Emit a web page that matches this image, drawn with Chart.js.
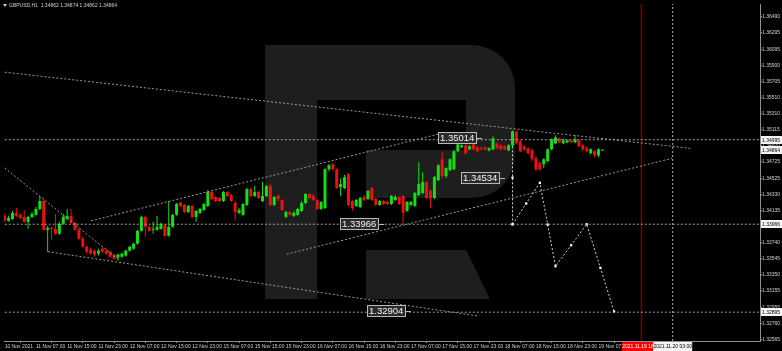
<!DOCTYPE html>
<html>
<head>
<meta charset="utf-8">
<script src="https://cdn.jsdelivr.net/npm/chart.js@4.4.0/dist/chart.umd.min.js"></script>
<style>
	html, body { margin: 0; padding: 0; background: #000; }
</style>
</head>
<body>
<canvas id="chart" width="782" height="351"></canvas>
<script>
// GBPUSD H1, 10 Nov 23:00 .. 19 Nov 08:00 (one candle per hour)
const opens = [
	1.34068,1.34007,1.34031,1.34104,1.34080,1.34055,1.33995,1.34055,1.34080,1.34152,
	1.34249,1.33898,1.33922,1.33910,1.33850,1.33971,1.34031,1.34068,1.33983,1.33898,
	1.33789,1.33692,1.33656,1.33644,1.33608,1.33668,1.33644,1.33632,1.33596,1.33559,
	1.33571,1.33584,1.33644,1.33668,1.33729,1.33886,1.34055,1.33934,1.33898,1.33898,
	1.33910,1.33959,1.33826,1.33934,1.34080,1.34225,1.34201,1.34116,1.34189,1.34055,
	1.34104,1.34140,1.34189,1.34358,1.34297,1.34285,1.34249,1.34358,1.34322,1.34225,
	1.34104,1.34080,1.34201,1.34394,1.34310,1.34358,1.34249,1.34310,1.34430,1.34201,
	1.34310,1.34261,1.34055,1.34116,1.34068,1.34080,1.34128,1.34225,1.34334,1.34310,
	1.34261,1.34152,1.34164,1.34636,1.34697,1.34636,1.34418,1.34406,1.34576,1.34249,
	1.34189,1.34176,1.34297,1.34273,1.34406,1.34273,1.34201,1.34249,1.34237,1.34213,
	1.34261,1.34297,1.34310,1.34128,1.34201,1.34189,1.34322,1.34346,1.34479,1.34370,
	1.34285,1.34503,1.34757,1.34552,1.34624,1.34636,1.34854,1.34903,1.34927,1.34878,
	1.34939,1.34903,1.34890,1.34903,1.34866,1.34878,1.34951,1.34927,1.34914,1.34866,
	1.34927,1.35096,1.34975,1.34914,1.34890,1.34866,1.34769,1.34709,1.34697,1.34733,
	1.34878,1.34951,1.35011,1.34951,1.34963,1.34987,1.34963,1.34987,1.34927,1.34890,
	1.34830,1.34854,1.34806,1.34862
];
const highs = [
	1.34092,1.34068,1.34128,1.34164,1.34104,1.34140,1.34068,1.34116,1.34176,1.34310,
	1.34273,1.33947,1.33934,1.34092,1.33995,1.34092,1.34152,1.34152,1.33995,1.33922,
	1.33813,1.33705,1.33680,1.33656,1.33668,1.33692,1.33668,1.33644,1.33608,1.33608,
	1.33620,1.33656,1.33705,1.33741,1.33898,1.34068,1.34068,1.33947,1.33995,1.34068,
	1.33983,1.33971,1.34249,1.34092,1.34225,1.34237,1.34213,1.34201,1.34201,1.34140,
	1.34164,1.34225,1.34382,1.34370,1.34310,1.34297,1.34370,1.34370,1.34334,1.34249,
	1.34164,1.34225,1.34406,1.34406,1.34430,1.34370,1.34479,1.34443,1.34455,1.34310,
	1.34334,1.34273,1.34128,1.34128,1.34128,1.34164,1.34249,1.34346,1.34346,1.34334,
	1.34273,1.34249,1.34648,1.34697,1.34709,1.34648,1.34527,1.34564,1.34588,1.34261,
	1.34273,1.34297,1.34322,1.34382,1.34418,1.34285,1.34261,1.34261,1.34249,1.34322,
	1.34322,1.34310,1.34322,1.34249,1.34249,1.34358,1.34721,1.34600,1.34491,1.34394,
	1.34552,1.34697,1.34842,1.34660,1.34769,1.34866,1.34951,1.34951,1.34939,1.34927,
	1.34951,1.34914,1.34914,1.34914,1.34903,1.35036,1.34963,1.34939,1.34927,1.34939,
	1.35108,1.35108,1.34999,1.34927,1.34903,1.34890,1.34794,1.34733,1.34769,1.34890,
	1.35011,1.35048,1.35023,1.35011,1.34999,1.34999,1.35048,1.34999,1.34939,1.34914,
	1.34890,1.34866,1.34890,1.34874
];
const lows = [
	1.33995,1.33995,1.34019,1.34055,1.34031,1.33983,1.33910,1.34043,1.34068,1.34140,
	1.33886,1.33632,1.33777,1.33838,1.33838,1.33959,1.34019,1.33971,1.33886,1.33777,
	1.33680,1.33608,1.33596,1.33571,1.33584,1.33620,1.33596,1.33559,1.33535,1.33523,
	1.33559,1.33571,1.33632,1.33656,1.33717,1.33874,1.33813,1.33874,1.33850,1.33886,
	1.33898,1.33813,1.33813,1.33922,1.34068,1.34176,1.34104,1.34104,1.34043,1.33995,
	1.34092,1.34128,1.34176,1.34261,1.34237,1.34237,1.34237,1.34297,1.34237,1.34007,
	1.34092,1.34068,1.34189,1.34297,1.34297,1.34273,1.34237,1.34297,1.34189,1.34189,
	1.34249,1.34128,1.34043,1.34068,1.34055,1.34068,1.34116,1.34213,1.34273,1.34249,
	1.34140,1.34140,1.34152,1.34612,1.34612,1.34394,1.34310,1.34394,1.34189,1.34128,
	1.34176,1.34164,1.34249,1.34261,1.34249,1.34189,1.34189,1.34201,1.34201,1.34201,
	1.34249,1.34201,1.33971,1.34116,1.34189,1.34176,1.34310,1.34334,1.34273,1.34164,
	1.34273,1.34491,1.34527,1.34527,1.34612,1.34624,1.34842,1.34890,1.34818,1.34866,
	1.34866,1.34842,1.34866,1.34866,1.34854,1.34866,1.34878,1.34866,1.34866,1.34854,
	1.34914,1.34939,1.34842,1.34854,1.34818,1.34733,1.34612,1.34612,1.34648,1.34721,
	1.34866,1.34939,1.34951,1.34939,1.34951,1.34951,1.34951,1.34903,1.34854,1.34842,
	1.34818,1.34781,1.34781,1.34862
];
const closes = [
	1.34019,1.34043,1.34104,1.34068,1.34043,1.33995,1.34055,1.34092,1.34152,1.34249,
	1.33898,1.33922,1.33910,1.33850,1.33971,1.34055,1.34068,1.33983,1.33898,1.33789,
	1.33692,1.33632,1.33608,1.33596,1.33644,1.33632,1.33608,1.33571,1.33547,1.33596,
	1.33608,1.33644,1.33692,1.33729,1.33886,1.34055,1.33934,1.33886,1.33910,1.33934,
	1.33971,1.33826,1.33934,1.34080,1.34213,1.34189,1.34116,1.34189,1.34055,1.34128,
	1.34152,1.34213,1.34358,1.34273,1.34249,1.34249,1.34358,1.34310,1.34249,1.34116,
	1.34140,1.34213,1.34394,1.34310,1.34358,1.34285,1.34310,1.34430,1.34201,1.34297,
	1.34273,1.34140,1.34116,1.34080,1.34104,1.34152,1.34225,1.34334,1.34285,1.34261,
	1.34152,1.34237,1.34636,1.34685,1.34636,1.34406,1.34455,1.34539,1.34201,1.34164,
	1.34261,1.34285,1.34261,1.34370,1.34261,1.34201,1.34249,1.34213,1.34213,1.34310,
	1.34297,1.34213,1.34104,1.34237,1.34237,1.34346,1.34455,1.34479,1.34285,1.34285,
	1.34539,1.34685,1.34552,1.34648,1.34757,1.34854,1.34939,1.34927,1.34830,1.34914,
	1.34878,1.34854,1.34878,1.34878,1.34890,1.35011,1.34890,1.34878,1.34878,1.34927,
	1.35096,1.34951,1.34854,1.34878,1.34830,1.34757,1.34636,1.34636,1.34757,1.34878,
	1.34999,1.35023,1.34963,1.34987,1.34987,1.34963,1.34999,1.34914,1.34878,1.34854,
	1.34878,1.34806,1.34878,1.34864
];

// axis labels
const xTickIdx = [0,8,16,24,32,40,48,56,64,72,80,88,96,104,112,120,128,136,144,152];
const xTickLabels = [
	"10 Nov 2021","11 Nov 07:00","11 Nov 15:00","11 Nov 23:00","12 Nov 07:00",
	"12 Nov 15:00","12 Nov 23:00","15 Nov 07:00","15 Nov 15:00","15 Nov 23:00",
	"16 Nov 07:00","16 Nov 15:00","16 Nov 23:00","17 Nov 07:00","17 Nov 15:00",
	"17 Nov 23:00","18 Nov 07:00","18 Nov 15:00","18 Nov 23:00","19 Nov 07:00"
];
const yTicks = [
	1.36490,1.36295,1.36095,1.35900,1.35705,1.35510,1.35310,1.35115,1.34920,1.34725,
	1.34525,1.34330,1.34135,1.33940,1.33740,1.33545,1.33350,1.33155,1.32955,1.32760,1.32565
];
const yMin = 1.325444;
const yMax = 1.366473;

// drawn objects (bar index, price)
const levelPrices = [1.34995, 1.33966, 1.32895];
const triangleTop = [{ x: 0, y: 1.35817 }, { x: 175.5, y: 1.34890 }];
const channelUp = [{ x: 22.1, y: 1.34007 }, { x: 112, y: 1.35075 }];
const channelUpLow = [{ x: 72.2, y: 1.33602 }, { x: 170.9, y: 1.34769 }];
const channelDown = [{ x: 11.05, y: 1.33632 }, { x: 121.1, y: 1.32849 }];
const earlyDown = [{ x: 0, y: 1.34652 }, { x: 29.15, y: 1.33535 }];
const dropIdx = [130, 130, 130];
const dropPrice = [1.34914, 1.34534, 1.33966];
const fcIdx = [130, 133.5, 137, 139, 141, 145, 149, 152.5, 156];
const fcPrice = [1.33966, 1.34218, 1.34470, 1.33962, 1.33454, 1.33710, 1.33966, 1.33435, 1.32904];
const noteText = ["1.35014", "1.34534", "1.33966", "1.32904"];
const noteIdx = [121, 126.8, 95.8, 102.8];
const axisMarks = [1.34995, 1.34864, 1.33966, 1.32895];
const nowIdx = 163;
const nowLabel = "2021.11.19 18:00";
const cursorIdx = 171;
const cursorLabel = "2021.11.20 03:00";
const header = "GBPUSD,H1  1.34862 1.34874 1.34862 1.34864";

const UP = "#12e012";
const DOWN = "#ee1010";
const FONT = "'Liberation Sans', Arial, sans-serif";

const candleColors = closes.map((c, i) => (c >= opens[i] ? UP : DOWN));
const bodies = opens.map((o, i) => ({ x: i, y: [o, closes[i]] }));
const wicks = lows.map((l, i) => ({ x: i, y: [l, highs[i]] }));

function dotted(data, color, extra) {
	return Object.assign({
		type: "line",
		data: data,
		borderColor: color || "#9a9a9a",
		borderWidth: 1,
		borderDash: [2, 2],
		pointRadius: 0,
		fill: false,
		tension: 0,
		order: 1,
	}, extra || {});
}

const lineSets = [
	...levelPrices.map((p) => dotted([{ x: -1, y: p }, { x: 200, y: p }], "#a0a0a0")),
	dotted(triangleTop),
	dotted(channelUp),
	dotted(channelUpLow),
	dotted(channelDown),
	dotted(earlyDown),
	dotted([{ x: nowIdx, y: yMin }, { x: nowIdx, y: yMax }], "#780000", { borderDash: [], borderWidth: 1.6 }),
	dotted([{ x: cursorIdx, y: yMin }, { x: cursorIdx, y: yMax }], "#b0b0b0"),
	dotted(dropIdx.map((x, i) => ({ x: x, y: dropPrice[i] })), "#d0d0d0", {
		pointRadius: [0, 1.6, 1.6], pointStyle: "rect",
		pointBackgroundColor: "#fff", pointBorderWidth: 0,
	}),
	dotted(fcIdx.map((x, i) => ({ x: x, y: fcPrice[i] })), "#d0d0d0", {
		pointRadius: 1.6, pointStyle: "rect",
		pointBackgroundColor: "#fff", pointBorderWidth: 0,
	}),
];

function drawLogo(ctx) {
	ctx.save();
	ctx.fillStyle = "#1e1e1e";
	ctx.beginPath();
	ctx.moveTo(265, 45);
	ctx.lineTo(472, 45);
	ctx.arcTo(515, 45, 515, 88, 43);
	ctx.lineTo(515, 155);
	ctx.arcTo(515, 198, 472, 198, 43);
	ctx.lineTo(265, 198);
	ctx.closePath();
	ctx.fill();
	ctx.fillRect(265, 45, 52, 254);
	ctx.beginPath();
	ctx.moveTo(366, 250);
	ctx.lineTo(466, 250);
	ctx.lineTo(490, 299);
	ctx.lineTo(366, 299);
	ctx.closePath();
	ctx.fill();
	ctx.fillStyle = "#000";
	ctx.fillRect(317, 100, 149, 50);
	ctx.fillRect(317, 150, 49, 48);
	ctx.restore();
}

const overlay = {
	id: "overlay",
	beforeDraw(chart) {
		const ctx = chart.ctx;
		ctx.save();
		ctx.fillStyle = "#000";
		ctx.fillRect(0, 0, chart.width, chart.height);
		ctx.restore();
	},
	beforeDatasetsDraw(chart) {
		drawLogo(chart.ctx);
	},
	afterDraw(chart) {
		const ctx = chart.ctx;
		const xs = chart.scales.x;
		const ys = chart.scales.y;
		ctx.save();

		// price notes on the chart
		ctx.font = "9.5px " + FONT;
		ctx.textBaseline = "middle";
		noteText.forEach((t, i) => {
			const xr = Math.round(xs.getPixelForValue(noteIdx[i]));
			const yc = Math.round(ys.getPixelForValue(parseFloat(t)));
			const w = Math.ceil(ctx.measureText(t).width) + 4;
			ctx.fillStyle = "#2b2b2b";
			ctx.fillRect(xr - w, yc - 6, w, 12);
			ctx.strokeStyle = "#b8b8b8";
			ctx.lineWidth = 1;
			ctx.strokeRect(xr - w + 0.5, yc - 5.5, w - 1, 11);
			ctx.fillStyle = "#f2f2f2";
			ctx.textAlign = "left";
			ctx.fillText(t, xr - w + 2, yc + 0.5);
			ctx.beginPath();
			ctx.moveTo(xr, yc + 0.5);
			ctx.lineTo(xr + 5, yc + 0.5);
			ctx.stroke();
		});

		// highlighted prices on the right axis
		ctx.font = "5px " + FONT;
		axisMarks.forEach((p) => {
			const yc = Math.round(ys.getPixelForValue(p));
			ctx.fillStyle = "#f4f4f4";
			ctx.fillRect(761, yc - 4, 21, 8);
			ctx.fillStyle = "#000";
			ctx.textAlign = "left";
			ctx.fillText(p.toFixed(5), 762, yc + 0.5);
		});

		// time boxes on the bottom axis
		const boxY = chart.chartArea.bottom + 1;
		const nx = xs.getPixelForValue(nowIdx);
		ctx.fillStyle = "#ff0000";
		ctx.fillRect(nx - 19.5, boxY, 39, 9);
		ctx.fillStyle = "#fff";
		ctx.textAlign = "center";
		ctx.fillText(nowLabel, nx, boxY + 4.5);
		const cx = xs.getPixelForValue(cursorIdx);
		ctx.fillStyle = "#f4f4f4";
		ctx.fillRect(cx - 19.5, boxY, 39, 9);
		ctx.fillStyle = "#000";
		ctx.fillText(cursorLabel, cx, boxY + 4.5);

		// header
		ctx.fillStyle = "#cfcfcf";
		ctx.beginPath();
		ctx.moveTo(3, 4);
		ctx.lineTo(7, 4);
		ctx.lineTo(5, 7);
		ctx.closePath();
		ctx.fill();
		ctx.textAlign = "left";
		ctx.fillText(header, 9, 5.5);
		ctx.restore();
	},
};

function noPadding(scale) {
	scale.paddingLeft = 0;
	scale.paddingRight = 0;
	scale.paddingTop = 0;
	scale.paddingBottom = 0;
}

new Chart(document.getElementById("chart"), {
	type: "bar",
	data: {
		datasets: [
			{
				data: wicks,
				backgroundColor: candleColors,
				barThickness: 1,
				grouped: false,
				inflateAmount: 0,
				minBarLength: 1,
				order: 3,
			},
			{
				data: bodies,
				backgroundColor: candleColors,
				barThickness: 3,
				grouped: false,
				inflateAmount: 0,
				minBarLength: 1,
				order: 2,
			},
			...lineSets,
		],
	},
	options: {
		responsive: false,
		animation: false,
		events: [],
		layout: { padding: { left: 1, top: 2, right: 0, bottom: 0 } },
		plugins: { legend: { display: false }, tooltip: { enabled: false } },
		scales: {
			x: {
				type: "linear",
				min: -0.171,
				max: 193.35,
				offset: false,
				afterBuildTicks: (s) => { s.ticks = xTickIdx.map((v) => ({ value: v })); },
				afterFit: (s) => { s.height = 10; noPadding(s); },
				ticks: {
					autoSkip: false,
					maxRotation: 0,
					align: "start",
					padding: 1,
					color: "#cfcfcf",
					font: { size: 5, family: FONT },
					callback: (v) => xTickLabels[xTickIdx.indexOf(v)] || "",
				},
				grid: { drawOnChartArea: false, drawTicks: true, tickLength: 2, color: "#909090" },
				border: { display: true, color: "#909090", width: 1 },
			},
			y: {
				type: "linear",
				position: "right",
				min: yMin,
				max: yMax,
				beginAtZero: false,
				afterBuildTicks: (s) => { s.ticks = yTicks.map((v) => ({ value: v })); },
				afterFit: (s) => { s.width = 22; noPadding(s); },
				ticks: {
					autoSkip: false,
					padding: 0,
					color: "#cfcfcf",
					font: { size: 5, family: FONT },
					callback: (v) => v.toFixed(5),
				},
				grid: { drawOnChartArea: false, drawTicks: true, tickLength: 2, color: "#909090" },
				border: { display: true, color: "#909090", width: 1 },
			},
		},
	},
	plugins: [overlay],
});
</script>
</body>
</html>
